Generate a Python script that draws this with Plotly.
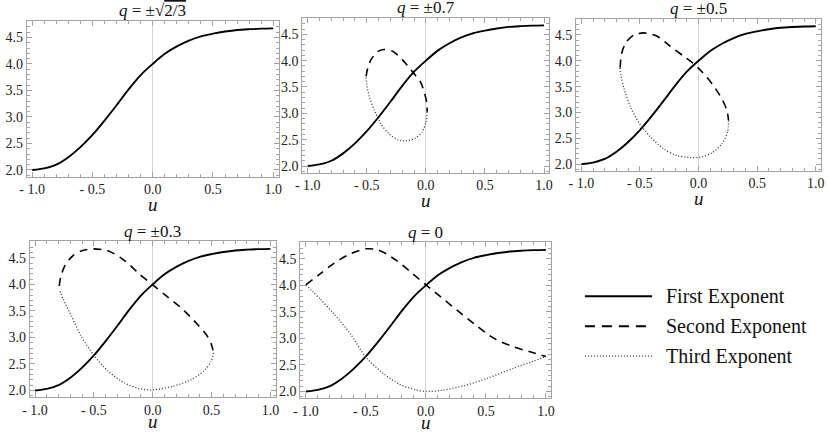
import plotly.graph_objects as go

# ---------------- data ----------------
u_first = [-1.0, -0.9, -0.8, -0.7, -0.6, -0.5, -0.4, -0.3, -0.2, -0.1, 0.0,
           0.1, 0.2, 0.3, 0.4, 0.5, 0.6, 0.7, 0.8, 0.9, 1.0]
first_exp = [2.00, 2.03, 2.10, 2.24, 2.43, 2.66, 2.93, 3.22, 3.52, 3.79, 4.00,
             4.19, 4.33, 4.44, 4.52, 4.57, 4.61, 4.64, 4.655, 4.665, 4.67]

# q = ±0.7
u_second_07 = [-0.506, -0.492, -0.464, -0.408, -0.353, -0.283, -0.200, -0.103, -0.047, -0.011, 0.008, 0.011]
second_07 = [3.70, 3.86, 4.02, 4.17, 4.21, 4.18, 4.02, 3.76, 3.60, 3.38, 3.19, 3.03]
u_third_07 = [0.011, 0.000, -0.033, -0.089, -0.158, -0.228, -0.311, -0.381, -0.436, -0.478, -0.500, -0.506]
third_07 = [3.03, 2.83, 2.64, 2.53, 2.48, 2.49, 2.61, 2.80, 3.06, 3.31, 3.54, 3.70]

# q = ±0.5
u_second_05 = [-0.669, -0.657, -0.621, -0.552, -0.468, -0.357, -0.245, -0.134, -0.050, 0.033, 0.117, 0.200, 0.242, 0.256]
second_05 = [3.87, 4.13, 4.35, 4.50, 4.54, 4.48, 4.29, 4.10, 3.96, 3.78, 3.55, 3.26, 3.04, 2.85]
u_third_05 = [0.256, 0.248, 0.200, 0.117, 0.006, -0.078, -0.189, -0.301, -0.412, -0.510, -0.579, -0.635, -0.663, -0.669]
third_05 = [2.85, 2.62, 2.40, 2.22, 2.13, 2.13, 2.17, 2.30, 2.53, 2.81, 3.10, 3.46, 3.74, 3.87]

# q = ±0.3
u_second_03 = [-0.794, -0.783, -0.747, -0.679, -0.596, -0.500, -0.376, -0.239, -0.115, 0.000, 0.118, 0.255, 0.379, 0.462, 0.503, 0.516]
second_03 = [3.97, 4.13, 4.35, 4.54, 4.64, 4.67, 4.63, 4.45, 4.20, 3.99, 3.78, 3.53, 3.25, 3.03, 2.84, 2.71]
u_third_03 = [0.516, 0.497, 0.434, 0.324, 0.173, 0.000, -0.102, -0.239, -0.376, -0.500, -0.610, -0.692, -0.761, -0.794]
third_03 = [2.71, 2.55, 2.37, 2.20, 2.08, 2.01, 2.03, 2.14, 2.36, 2.66, 3.03, 3.41, 3.72, 3.91]

# q = 0
u_second_0 = [-1.0, -0.879, -0.769, -0.633, -0.497, -0.387, -0.251, -0.115, 0.0, 0.131, 0.267, 0.404, 0.568, 0.731, 0.895, 1.0]
second_0 = [4.01, 4.22, 4.41, 4.59, 4.69, 4.66, 4.48, 4.23, 4.01, 3.77, 3.52, 3.27, 3.00, 2.84, 2.73, 2.66]
u_third_0 = [-1.0, -0.879, -0.769, -0.633, -0.497, -0.360, -0.224, -0.087, 0.0, 0.131, 0.322, 0.513, 0.731, 0.895, 1.0]
third_0 = [4.01, 3.74, 3.47, 3.10, 2.64, 2.35, 2.14, 2.03, 2.00, 2.02, 2.11, 2.25, 2.44, 2.57, 2.66]

panel_titles = ["<i>q</i> = \u00b1\u221a<span style='text-decoration:overline'>2/3</span>",
                "<i>q</i> = \u00b10.7", "<i>q</i> = \u00b10.5",
                "<i>q</i> = \u00b10.3", "<i>q</i> = 0"]
legend_names = ["First Exponent", "Second Exponent", "Third Exponent"]
x_tickvals = [-1.0, -0.5, 0.0, 0.5, 1.0]
x_ticktext = ["- 1.0", "- 0.5", "0.0", "0.5", "1.0"]
y_tickvals = [2.0, 2.5, 3.0, 3.5, 4.0, 4.5]
y_ticktext = ["2.0", "2.5", "3.0", "3.5", "4.0", "4.5"]

# ---------------- layout geometry ----------------
W, H = 827, 436
# (left, right, top, bottom) in pixels
boxes = [(20, 275, 21, 177), (299, 549, 18, 173), (576, 824, 19, 171),
         (23, 272, 242, 398), (297, 551, 243, 399)]

SERIF = "Liberation Serif"
FRAME = "#a3a3a3"
dash_style = "8px,6px"
dot_style = "1px,2px"

series = [
    [],
    [(u_second_07, second_07), (u_third_07, third_07)],
    [(u_second_05, second_05), (u_third_05, third_05)],
    [(u_second_03, second_03), (u_third_03, third_03)],
    [(u_second_0, second_0), (u_third_0, third_0)],
]

fig = go.Figure()
layout = dict(width=W, height=H, autosize=False,
              margin=dict(l=0, r=0, t=0, b=0),
              paper_bgcolor="white", plot_bgcolor="white",
              showlegend=False, font=dict(family=SERIF, color="#222", size=14))
annotations = []
shapes = []

for i, (l, r, t, b) in enumerate(boxes):
    k = "" if i == 0 else str(i + 1)
    xa, ya = "x" + k, "y" + k
    fig.add_trace(go.Scatter(x=u_first, y=first_exp, mode="lines", xaxis=xa, yaxis=ya,
                             line=dict(color="black", width=1.9, shape="spline", smoothing=0.8),
                             name=legend_names[0]))
    if series[i]:
        (us, vs), (ut, vt) = series[i]
        fig.add_trace(go.Scatter(x=us, y=vs, mode="lines", xaxis=xa, yaxis=ya,
                                 line=dict(color="black", width=1.6, dash=dash_style,
                                           shape="spline", smoothing=0.8),
                                 name=legend_names[1]))
        fig.add_trace(go.Scatter(x=ut, y=vt, mode="lines", xaxis=xa, yaxis=ya,
                                 line=dict(color="#333", width=1.3, dash=dot_style,
                                           shape="spline", smoothing=0.8),
                                 name=legend_names[2]))
    common = dict(showgrid=False, showline=True, linecolor=FRAME, linewidth=1,
                  mirror="allticks", ticks="inside", ticklen=5, tickcolor=FRAME,
                  tickfont=dict(family=SERIF, size=14, color="#222"))
    layout["xaxis" + k] = dict(domain=[l / W, r / W], anchor=ya, range=[-1.045, 1.045],
                               tickvals=x_tickvals, ticktext=x_ticktext,
                               zeroline=True, zerolinecolor="#d4d4d4", zerolinewidth=1,
                               minor=dict(dtick=0.1, tick0=0, ticklen=3, ticks="inside",
                                          tickcolor=FRAME),
                               **common)
    layout["yaxis" + k] = dict(domain=[1 - b / H, 1 - t / H], anchor=xa, range=[1.875, 4.81],
                               tickvals=y_tickvals, ticktext=y_ticktext, zeroline=False,
                               minor=dict(dtick=0.1, tick0=0, ticklen=3, ticks="inside",
                                          tickcolor=FRAME),
                               **common)
    cx = (l + r) / 2 / W
    annotations.append(dict(text=panel_titles[i], xref="paper", yref="paper",
                            x=cx, y=1 - (t - 10) / H, xanchor="center", yanchor="middle",
                            showarrow=False, font=dict(family=SERIF, size=17, color="#111")))
    u_off = 28 if i < 3 else 24
    annotations.append(dict(text="<i>u</i>", xref="paper", yref="paper",
                            x=cx, y=1 - (b + u_off) / H, xanchor="center", yanchor="middle",
                            showarrow=False, font=dict(family=SERIF, size=19, color="#111")))

# legend (drawn manually so its keys match the long reference keys)
leg_rows = [297, 327, 357]
leg_styles = [dict(color="black", width=2, dash="solid"),
              dict(color="black", width=1.8, dash="10px,7px"),
              dict(color="#333", width=1.2, dash=dot_style)]
for name, yy, st in zip(legend_names, leg_rows, leg_styles):
    shapes.append(dict(type="line", xref="paper", yref="paper",
                       x0=585 / W, x1=653 / W, y0=1 - yy / H, y1=1 - yy / H, line=st))
    annotations.append(dict(text=name, xref="paper", yref="paper", x=665 / W, y=1 - yy / H,
                            xanchor="left", yanchor="middle", showarrow=False,
                            font=dict(family=SERIF, size=20, color="#111")))

layout["annotations"] = annotations
layout["shapes"] = shapes
fig.update_layout(**layout)
fig.write_html("out.html", config={"displayModeBar": False},
               post_script="document.body.style.margin='0';document.body.style.overflow='hidden';")
